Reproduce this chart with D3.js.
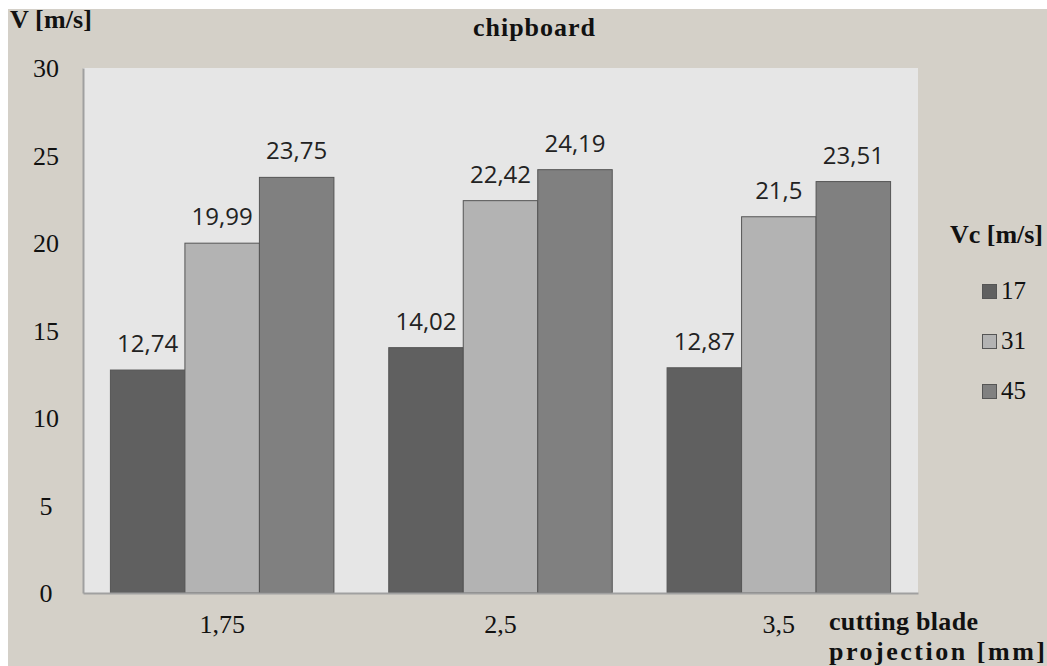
<!DOCTYPE html>
<html>
<head>
<meta charset="utf-8">
<script src="https://cdn.jsdelivr.net/npm/d3@7"></script>
<style>
  body { margin: 0; background: #fff; }
  svg { display: block; }
</style>
</head>
<body>
<div id="chart"></div>
<script>
// data
var categories = ["1,75", "2,5", "3,5"];
var seriesNames = ["17", "31", "45"];
var v17 = [12.74, 14.02, 12.87];
var v31 = [19.99, 22.42, 21.5];
var v45 = [23.75, 24.19, 23.51];
var yTicks = [0, 5, 10, 15, 20, 25, 30];
var colors = ["#606060", "#b3b3b3", "#808080"];

var svgWidth = 1047;
var svgHeight = 666;

var margin = { top: 68, right: 129, bottom: 73, left: 83 };
var width = svgWidth - margin.left - margin.right;
var height = svgHeight - margin.top - margin.bottom;

var serif = "'Liberation Serif', 'Times New Roman', serif";

var svg = d3.select("#chart")
  .append("svg")
  .attr("width", svgWidth)
  .attr("height", svgHeight);

// outer grey panel (small white border at top/left like the screenshot)
svg.append("rect")
  .attr("x", 8).attr("y", 9)
  .attr("width", svgWidth - 8).attr("height", svgHeight - 9)
  .attr("fill", "#d4d0c8");

var g = svg.append("g")
  .attr("transform", "translate(" + margin.left + "," + margin.top + ")");

g.append("rect")
  .attr("width", width).attr("height", height)
  .attr("fill", "#e6e6e6");

var x0 = d3.scaleBand().domain(categories).range([0, width]).paddingInner(0.197).paddingOuter(0.0985);
var x1 = d3.scaleBand().domain(seriesNames).range([0, x0.bandwidth()]);
var y = d3.scaleLinear().domain([0, 30]).range([height, 0]);

var rows = categories.map(function(c, i) {
  return { cat: c, vals: [v17[i], v31[i], v45[i]] };
});

var groups = g.selectAll(".grp")
  .data(rows)
  .enter().append("g")
  .attr("transform", function(d) { return "translate(" + x0(d.cat) + ",0)"; });

groups.selectAll("rect")
  .data(function(d) { return d.vals.map(function(v, j) { return { s: seriesNames[j], v: v, j: j }; }); })
  .enter().append("rect")
  .attr("x", function(d) { return x1(d.s); })
  .attr("y", function(d) { return y(d.v); })
  .attr("width", x1.bandwidth())
  .attr("height", function(d) { return height - y(d.v); })
  .attr("fill", function(d) { return colors[d.j]; })
  .attr("stroke", "#555")
  .attr("stroke-width", 1);

groups.selectAll(".lbl")
  .data(function(d) { return d.vals.map(function(v, j) { return { s: seriesNames[j], v: v }; }); })
  .enter().append("text")
  .attr("x", function(d) { return x1(d.s) + x1.bandwidth() / 2; })
  .attr("y", function(d) { return y(d.v) - 18; })
  .attr("text-anchor", "middle")
  .style("font-family", "'Open Sans', sans-serif")
  .style("font-size", "24px")
  .attr("fill", "#222")
  .text(function(d) { return String(d.v).replace(".", ","); });

// axes
var yAxis = g.append("g").call(d3.axisLeft(y).tickValues(yTicks).tickSize(0).tickPadding(24));
yAxis.select(".domain").attr("stroke", "#a0a0a0").attr("stroke-width", 2);
yAxis.selectAll("text")
  .style("font-family", serif)
  .style("font-size", "26px")
  .attr("fill", "#111")
  .attr("text-anchor", "middle")
  .attr("dx", -13)
  .attr("dy", "0.34em");

var xAxis = g.append("g")
  .attr("transform", "translate(0," + height + ")")
  .call(d3.axisBottom(x0).tickSize(0).tickPadding(22));
xAxis.select(".domain").attr("stroke", "#a0a0a0").attr("stroke-width", 2);
xAxis.selectAll("text")
  .style("font-family", serif)
  .style("font-size", "26px")
  .attr("fill", "#111");

// titles
function label(txt, x, y, len, anchor) {
  var t = svg.append("text")
    .attr("x", x).attr("y", y)
    .attr("text-anchor", anchor || "start")
    .style("font-family", serif)
    .style("font-weight", "bold")
    .style("font-size", "26px")
    .attr("fill", "#111")
    .text(txt);
  if (len) t.attr("textLength", len).attr("lengthAdjust", "spacing");
}
label("V [m/s]", 10, 28, 82);
label("chipboard", 534, 36, 122, "middle");
label("Vc [m/s]", 950, 243, 93);
label("cutting blade", 829, 630, 149);
label("projection [mm]", 829, 660, 216);

// legend
var legend = svg.selectAll(".leg")
  .data(seriesNames)
  .enter().append("g")
  .attr("transform", function(d, i) { return "translate(982," + (284 + i * 50) + ")"; });
legend.append("rect")
  .attr("x", 0.5).attr("y", 0.5)
  .attr("width", 14).attr("height", 14)
  .attr("fill", function(d, i) { return colors[i]; })
  .attr("stroke", "#555");
legend.append("text")
  .attr("x", 19).attr("y", 15)
  .style("font-family", serif)
  .style("font-size", "25px")
  .attr("fill", "#111")
  .text(function(d) { return d; });
</script>
</body>
</html>
